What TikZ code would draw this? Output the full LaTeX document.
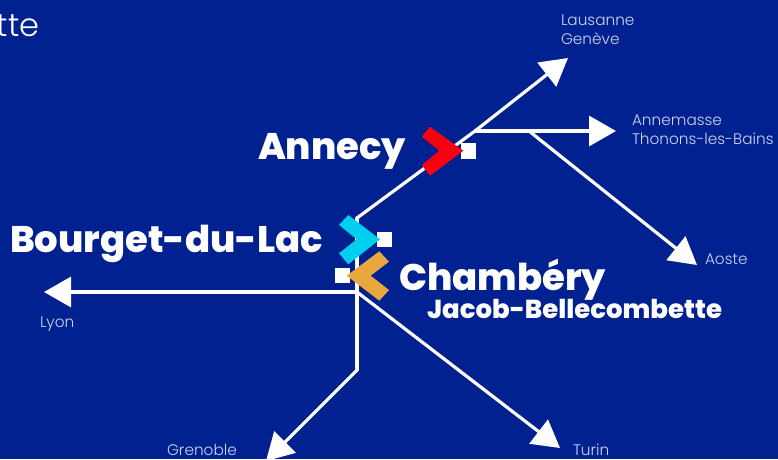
\documentclass[tikz,border=0pt]{standalone}
\usepackage{fontspec}
\setmainfont{Poppins}
\newfontfamily\lightf{Poppins Light}
\newfontfamily\heavyf{Poppins ExtraBold}
\usetikzlibrary{arrows.meta}
\definecolor{bgblue}{RGB}{0,33,143}
\definecolor{lbl}{RGB}{205,213,238}
\definecolor{cred}{RGB}{250,0,16}
\definecolor{ccyan}{RGB}{0,207,240}
\definecolor{corange}{RGB}{232,168,62}
\tikzset{
  x=1pt,y=-1pt,
  rail/.style={draw=white,line width=3.2pt,line cap=round,line join=round},
  railarrow/.style={rail,-{Triangle[length=27pt,width=30pt,fill=white]}},
  stopbox/.style={fill=white,minimum size=15.3pt,inner sep=0pt,outer sep=0pt,anchor=center},
  city/.style={text=white,anchor=base west,inner sep=0pt,outer sep=0pt,font=\heavyf\fontsize{37}{37}\selectfont},
  subcity/.style={text=white,anchor=base west,inner sep=0pt,outer sep=0pt,font=\heavyf\fontsize{26}{26}\selectfont},
  dest/.style={text=lbl,anchor=base west,inner sep=0pt,outer sep=0pt,font=\lightf\fontsize{15.3}{15.3}\selectfont},
}
\begin{document}
\begin{tikzpicture}
\useasboundingbox (0,0) rectangle (778,459);
\fill[bgblue] (0,0) rectangle (778,459);
\clip (0,0) rectangle (778,459);
% junctions and free ends
\coordinate (hub) at (357,292);
\coordinate (bend) at (357,370);
\coordinate (top) at (357,218);
\coordinate (fork) at (475,131);
\coordinate (forkb) at (529,131);
\coordinate (lausanneTip) at (568,58);
\coordinate (annemasseTip) at (616,131);
\coordinate (aosteTip) at (697,265);
\coordinate (lyonTip) at (44,292);
\coordinate (grenobleTip) at (266,461);
\coordinate (turinTip) at (560,448);
\coordinate (lower) at (357,255);
% stops
\node[stopbox] (sannecy) at (468.4,151) {};
\node[stopbox] (sbourget) at (384.4,239.4) {};
\node[stopbox] (schambery) at (342.5,275.8) {};
% connectors
\draw[rail] (top) -- (fork);
\draw[rail] (top) -- (lower);
\draw[rail] (lower) -- (hub) -- (bend);
\draw[railarrow] (fork) -- (lausanneTip);
\draw[railarrow] (fork) -- (annemasseTip);
\draw[railarrow] (forkb) -- (aosteTip);
\draw[railarrow] (hub) -- (lyonTip);
\draw[railarrow] (bend) -- (grenobleTip);
\draw[railarrow] (hub) -- (turinTip);
% chevrons
\fill[cred] (430,126.7) -- (463.3,150.7) -- (430,175.7) -- (421.7,165) -- (439.3,150.7) -- (421.7,136.7) -- cycle;
\fill[ccyan] (348.3,215) -- (380,239.3) -- (348.3,264.3) -- (339,253.3) -- (356.7,239.3) -- (339,225) -- cycle;
\fill[corange] (379.3,251.3) -- (346.7,275.7) -- (379.3,300.7) -- (389,290) -- (370.7,275.7) -- (389,261.7) -- cycle;
% texts
\node[text=white,anchor=base east,inner sep=0pt,font=\lightf\fontsize{32}{32}\selectfont] (frag) at (39.5,36) {tte};
\node[city] (annecy) at (258,159.5) {Annecy};
\node[city] (bourget) at (10,252) {Bourget-du-Lac};
\node[city] (chambery) at (399,290.5) {Chambéry};
\node[subcity] (jacob) at (427,318) {Jacob-Bellecombette};
\node[dest] (lausanne) at (561,25) {Lausanne};
\node[dest] (geneve) at (561,44) {Genève};
\node[dest] (annemasse) at (632,125) {Annemasse};
\node[dest] (thonons) at (632,144) {Thonons-les-Bains};
\node[dest] (aoste) at (705,264) {Aoste};
\node[dest] (lyon) at (40,327) {Lyon};
\node[dest] (grenoble) at (167,455) {Grenoble};
\node[dest] (turin) at (573,455) {Turin};
\end{tikzpicture}
\end{document}
